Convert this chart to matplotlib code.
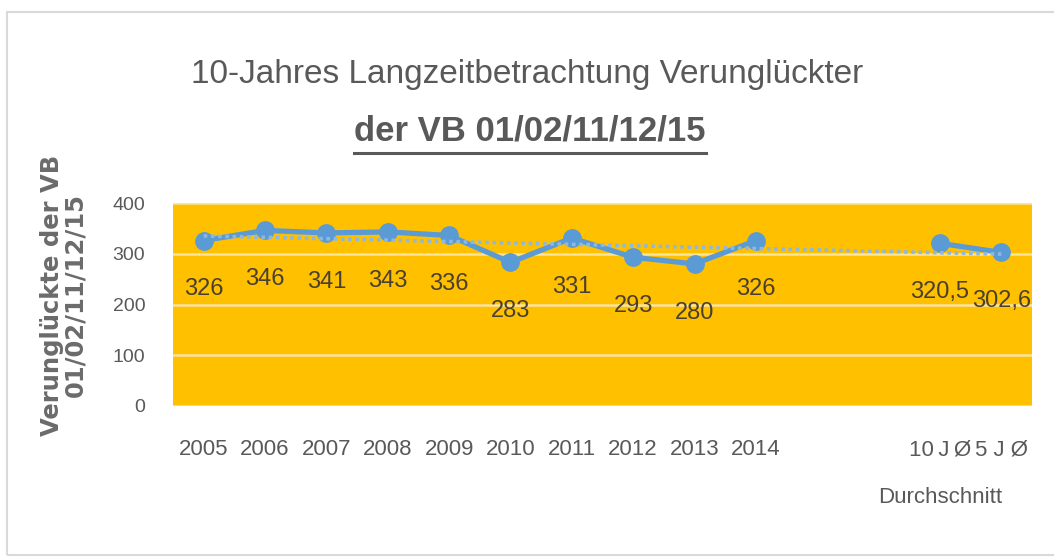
import numpy as np
import matplotlib
matplotlib.use('Agg')
import matplotlib.pyplot as plt
from matplotlib.lines import Line2D
from matplotlib.patches import Rectangle

# Daten
kategorien = ['2005', '2006', '2007', '2008', '2009', '2010', '2011', '2012',
              '2013', '2014', '', '', '10\u2009J\u2009Ø', '5 J Ø']
werte = [326, 346, 341, 343, 336, 283, 331, 293, 280, 326,
         np.nan, np.nan, 320.5, 302.6]
gruppe = 'Durchschnitt'

schrift = ['Liberation Sans', 'DejaVu Sans']
grau = '#595959'
blau = '#5B9BD5'

fig = plt.figure(figsize=(10.54, 5.59), dpi=100)
fig.patch.set_facecolor('white')
# Rahmen des Diagramms
fig.patches.append(Rectangle((7 / 1054, 4 / 559), 1.1, 543 / 559, transform=fig.transFigure,
                             facecolor='none', edgecolor='#D9D9D9', linewidth=1.5))

ax = fig.add_axes([173 / 1054, 1 - 406 / 559, 859 / 1054, 203 / 559])
ax.set_facecolor('#FFC000')
x = np.arange(len(kategorien))
y = np.array(werte, dtype=float)

ax.plot(x, y, color=blau, linewidth=3.8, marker='o', markersize=12.5, zorder=3)

# lineare Trendlinie (wie in Excel), liegt über der Linie
ok = ~np.isnan(y)
k, d = np.polyfit(x[ok], y[ok], 1)
ax.plot(x, k * x + d, linestyle=(0, (1, 1)), color='#8DB8E2', linewidth=2.6, zorder=4)

for xi, yi in zip(x, y):
    if np.isnan(yi):
        continue
    txt = ('%.1f' % yi).replace('.', ',') if yi != int(yi) else str(int(yi))
    ax.annotate(txt, (xi, yi), xytext=(0, -35), textcoords='offset points',
                ha='center', va='center', fontsize=17, color='#4A4030', family=schrift)

ax.set_xlim(-0.5, len(kategorien) - 0.5)
ax.set_ylim(0, 400)
ax.set_yticks([0, 100, 200, 300, 400])
ax.set_xticks(x)
ax.set_xticklabels(kategorien)
ax.grid(axis='y', color='#FBE3A0', linewidth=1.8)
ax.set_axisbelow(True)
for s in ax.spines.values():
    s.set_visible(False)
ax.tick_params(length=0, colors=grau, labelsize=14)
ax.tick_params(axis='x', pad=24, labelsize=16)
ax.tick_params(axis='y', pad=20)
for lab in ax.get_xticklabels() + ax.get_yticklabels():
    lab.set_family(schrift)

ax.text(12, -0.45, gruppe, transform=ax.get_xaxis_transform(), ha='center', va='center',
        fontsize=16, color=grau, family=schrift)

fig.text(64 / 1054, 1 - 295 / 559, 'Verunglückte der VB\n01/02/11/12/15', rotation=90,
         ha='center', va='center', fontsize=17.5, fontweight='bold', color='#6B6B6B',
         family='DejaVu Sans', linespacing=0.95)

fig.text(527 / 1054, 1 - 74 / 559, '10-Jahres Langzeitbetrachtung Verunglückter',
         ha='center', va='center', fontsize=24, color=grau, family=schrift)
t2 = fig.text(530 / 1054, 1 - 131 / 559, 'der VB 01/02/11/12/15', ha='center', va='center',
              fontsize=25, fontweight='bold', color=grau, family=schrift)

# Unterstreichung
r = fig.canvas.get_renderer()
bb = t2.get_window_extent(renderer=r)
fig.lines.append(Line2D([bb.x0 / 1054, bb.x1 / 1054], [1 - 153 / 559, 1 - 153 / 559],
                        transform=fig.transFigure, color=grau, linewidth=2.2))

fig.savefig('out.png', dpi=100)
